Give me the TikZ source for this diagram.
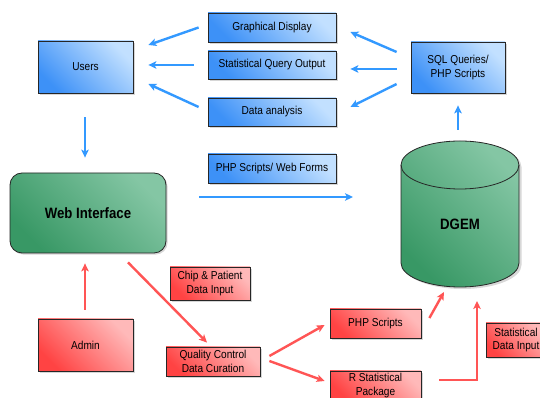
\documentclass[tikz,border=0pt]{standalone}
\usepackage{fontspec}
\usetikzlibrary{shadows,arrows.meta,calc}
\newfontfamily\nfont[FakeStretch=0.88]{Liberation Sans}

\definecolor{bluedk}{HTML}{3D91F7}
\definecolor{bluelt}{HTML}{C2E0FF}
\definecolor{greendk}{HTML}{389865}
\definecolor{greenlt}{HTML}{84C6A4}
\definecolor{reddk}{HTML}{FF4343}
\definecolor{redlt}{HTML}{FFB9B9}
\definecolor{barrowc}{HTML}{3399FF}
\definecolor{rarrowc}{HTML}{FF5555}

\tikzset{
  base/.style={draw=black!85, line width=0.8pt, align=center, inner sep=0pt,
    font=\nfont\fontsize{11.5}{13.5}\selectfont,
    drop shadow={shadow xshift=1.6pt, shadow yshift=-1.6pt, fill=black!45, opacity=0.35}},
  bluebox/.style={base, top color=bluelt, bottom color=bluedk, shading angle=-45},
  redbox/.style={base, top color=redlt, bottom color=reddk, shading angle=-45},
  greenbox/.style={base, top color=greenlt, bottom color=greendk, shading angle=-45},
  bigtext/.style={font=\nfont\bfseries\fontsize{15}{17}\selectfont},
  barrow/.style={draw=barrowc, line width=2.4pt, -{Stealth[length=8pt,width=7.5pt,inset=2pt]}},
  rarrow/.style={draw=rarrowc, line width=2.4pt, -{Stealth[length=8pt,width=7.5pt,inset=2pt]}},
}

\begin{document}
\begin{tikzpicture}[x=1pt,y=1pt]
\fill[white] (0,0) rectangle (540,398);
\useasboundingbox (0,0) rectangle (540,398);

% upper (blue) part
\node[bluebox, minimum width=95pt, minimum height=52pt] (users) at (85.5,331) {Users};
\node[bluebox, minimum width=128pt, minimum height=29pt] (gd) at (272,370.5) {Graphical Display};
\node[bluebox, minimum width=128pt, minimum height=28pt] (sq) at (272,333) {Statistical Query Output};
\node[bluebox, minimum width=128pt, minimum height=28pt] (da) at (272,286) {Data analysis};
\node[bluebox, minimum width=128pt, minimum height=29pt] (pw) at (272,229.5) {PHP Scripts/ Web Forms};
\node[bluebox, minimum width=94pt, minimum height=51pt] (sql) at (458,330.5) {SQL Queries/\\ PHP Scripts};

% web interface
\node[greenbox, bigtext, rounded corners=12pt, minimum width=156pt, minimum height=80pt] (web) at (88,185) {Web Interface};

% database cylinder
\fill[black!30, opacity=0.5] (403.5,231) -- (403.5,133) arc[start angle=180, end angle=360, x radius=59pt, y radius=24pt]
  -- (521.5,231) arc[start angle=0, end angle=180, x radius=59pt, y radius=24pt] -- cycle;
\shade[top color=greenlt, bottom color=greendk, shading angle=-45, draw=black!85, line width=0.8pt]
  (401,233) -- (401,135) arc[start angle=180, end angle=360, x radius=59pt, y radius=24pt]
  -- (519,233) arc[start angle=0, end angle=180, x radius=59pt, y radius=24pt] -- cycle;
\draw[black!85, line width=0.8pt] (401,233) arc[start angle=180, end angle=360, x radius=59pt, y radius=24pt];
\node[bigtext, inner sep=0pt] (dgem) at (460,173.5) {DGEM};

% lower (red) part
\node[redbox, minimum width=95pt, minimum height=52pt] (admin) at (85.5,53) {Admin};
\node[redbox, minimum width=80pt, minimum height=33pt] (chip) at (210,114.5) {Chip \& Patient\\ Data Input};
\node[redbox, minimum width=94pt, minimum height=29pt] (qc) at (213,36.5) {Quality Control\\ Data Curation};
\node[redbox, minimum width=91pt, minimum height=29pt] (phps) at (375.5,74.5) {PHP Scripts};
\node[redbox, minimum width=91pt, minimum height=29pt] (rsp) at (375.5,12.5) {R Statistical\\ Package};
\node[redbox, minimum width=60pt, minimum height=34pt] (sdi) at (516,58) {Statistical\\ Data Input};

% blue connectors
\draw[barrow] ([xshift=-9pt]gd.west) -- ([xshift=15pt,yshift=22pt]users.east);
\draw[barrow] ([xshift=-14pt]sq.west) -- ([xshift=15pt,yshift=2pt]users.east);
\draw[barrow] ([xshift=-9pt,yshift=5pt]da.west) -- ([xshift=15pt,yshift=-17pt]users.east);
\draw[barrow] ([xshift=-14pt,yshift=15.5pt]sql.west) -- ([xshift=14pt,yshift=-4.5pt]gd.east);
\draw[barrow] ([xshift=-14pt,yshift=-1.5pt]sql.west) -- ([xshift=14pt,yshift=-4pt]sq.east);
\draw[barrow] ([xshift=-14pt,yshift=-16.5pt]sql.west) -- ([xshift=14pt,yshift=5pt]da.east);
\draw[barrow] ([xshift=-0.5pt,yshift=-24pt]users.south) -- ([xshift=-3pt,yshift=15pt]web.north);
\draw[barrow] ([xshift=-2pt,yshift=94.5pt]dgem.center) -- ([yshift=-12pt]sql.south);
\draw[barrow] ([xshift=33pt,yshift=16pt]web.east) -- ([xshift=-107pt,yshift=27.5pt]dgem.center);

% red connectors
\draw[rarrow] ([xshift=-0.5pt,yshift=9pt]admin.north) -- ([xshift=-3pt,yshift=-10pt]web.south);
\draw[rarrow] ([xshift=40pt,yshift=-9pt]web.south) -- ([xshift=-6pt,yshift=4pt]qc.north);
\draw[rarrow] ([xshift=9pt,yshift=5.5pt]qc.east) -- ([xshift=-5pt,yshift=-1.5pt]phps.west);
\draw[rarrow] ([xshift=9pt,yshift=0.5pt]qc.east) -- ([xshift=-5pt,yshift=4.5pt]rsp.west);
\draw[rarrow] ([xshift=8pt,yshift=5.5pt]phps.east) -- ([xshift=-16pt,yshift=-67.5pt]dgem.center);
\draw[rarrow] ([xshift=18pt,yshift=5.5pt]rsp.east) -| ([xshift=17pt,yshift=-76.5pt]dgem.center);
\end{tikzpicture}
\end{document}
